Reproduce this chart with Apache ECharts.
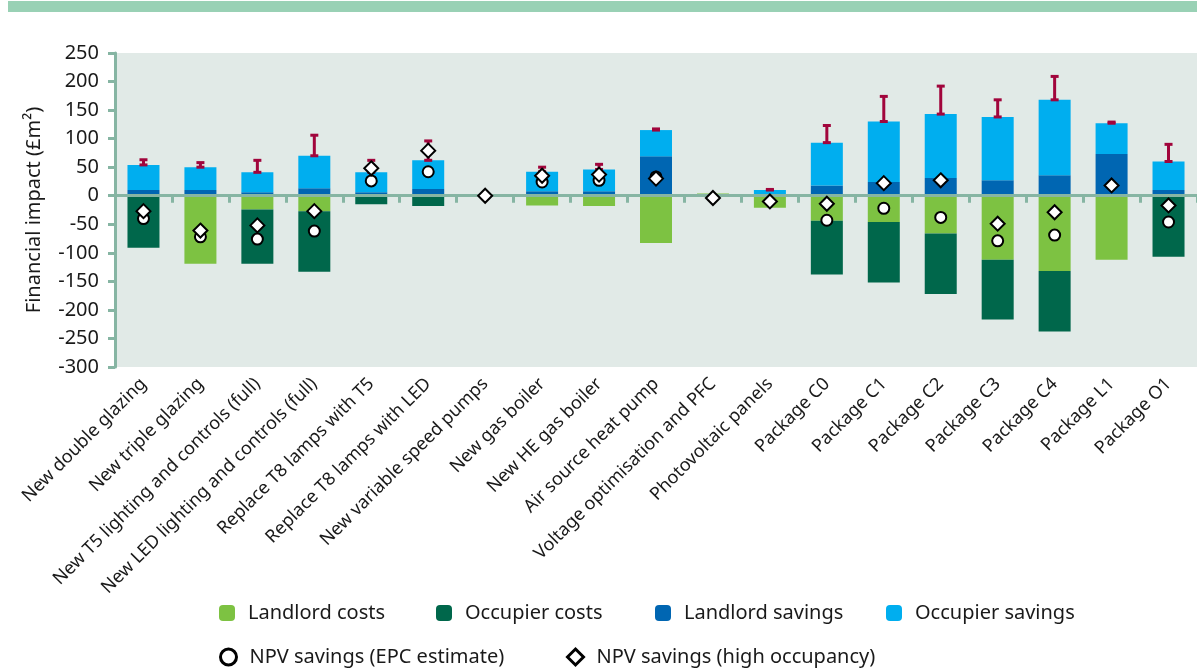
<!DOCTYPE html>
<html>
<head>
<meta charset="utf-8">
<title>Financial impact</title>
<script src="https://cdn.jsdelivr.net/npm/echarts@6/dist/echarts.min.js"></script>
<style>
    html, body { margin: 0; padding: 0; background: #fff; }
    #main { width: 1197px; height: 672px; }
</style>
</head>
<body>
<div id="main"></div>
<script>
    var categories = [
        "New double glazing", "New triple glazing", "New T5 lighting and controls (full)",
        "New LED lighting and controls (full)", "Replace T8 lamps with T5", "Replace T8 lamps with LED",
        "New variable speed pumps", "New gas boiler", "New HE gas boiler", "Air source heat pump",
        "Voltage optimisation and PFC", "Photovoltaic panels", "Package C0", "Package C1",
        "Package C2", "Package C3", "Package C4", "Package L1", "Package O1"
    ];
    var landlordCosts = [0, -119, -24, -27, 0, 0, 0, -17, -18, -83, 4, -21, -44, -46, -66, -112, -132, -112, 0];
    var occupierCosts = [-91, 0, -95, -106, -15, -18, 0, 0, 0, 0, 0, 0, -94, -106, -106, -105, -106, 0, -107];
    var landlordSavings = [10, 10, 6, 13, 6, 12, 2, 8, 8, 69, 0, 0, 18, 24, 31, 27, 36, 73, 10];
    var occupierSavings = [44, 40, 35, 57, 35, 50, 0, 34, 38, 46, 0, 10, 75, 106, 112, 111, 132, 54, 50];
    // upper end of the range on savings
    var savingsHigh = [63, 58, 62, 106, 62, 96, null, 50, 55, 117, null, 11, 123, 174, 192, 168, 209, 129, 90];
    var npvEpc = [-40, -72, -76, -62, 26, 42, null, 24, 27, 33, null, null, -43, -22, -38, -79, -69, null, -46];
    var npvHighOcc = [-27, -61, -52, -27, 48, 79, 0, 35, 37, 30, -4, -10, -14, 22, 27, -49, -29, 18, -17];
    var yTicks = { min: -300, max: 250, step: 50 };

    var font = "Noto Sans";
    var axisColor = "#86B5A3";
    var errColor = "#A1053C";

    var errData = [];
    for (var i = 0; i < categories.length; i++) {
        if (savingsHigh[i] == null) continue;
        errData.push([i, landlordSavings[i] + occupierSavings[i], savingsHigh[i]]);
    }

    var chart = echarts.init(document.getElementById("main"));

    function legendItem(name, left, top, extra) {
        var l = {
            data: [name],
            left: left,
            top: top,
            padding: 0,
            itemWidth: 16,
            itemHeight: 16,
            selectedMode: false,
            textStyle: { fontFamily: font, fontSize: 20, color: "#1a1a1a", padding: [0, 0, 0, 8] }
        };
        if (extra) l.itemStyle = extra;
        return l;
    }

    var option = {
        backgroundColor: "#fff",
        animation: false,
        graphic: [{
            type: "rect",
            shape: { x: 8, y: 1, width: 1189, height: 11 },
            style: { fill: "#99D1B5" }
        }],
        grid: {
            show: true,
            left: 115,
            top: 53,
            width: 1085,
            height: 314,
            backgroundColor: "#E1EAE7",
            borderWidth: 0
        },
        legend: [
            legendItem("Landlord costs", 219, 603),
            legendItem("Occupier costs", 436, 603),
            legendItem("Landlord savings", 655, 603),
            legendItem("Occupier savings", 886, 603),
            legendItem("NPV savings (EPC estimate)", 219, 647, { borderWidth: 3 }),
            legendItem("NPV savings (high occupancy)", 566, 647, { borderWidth: 3 })
        ],
        xAxis: [{
            type: "category",
            data: categories,
            position: "bottom",
            axisLine: { show: false, onZero: false },
            axisTick: { show: false },
            axisLabel: {
                interval: 0,
                rotate: 45,
                margin: 14,
                fontFamily: font,
                fontSize: 18,
                color: "#1a1a1a"
            }
        }, {
            type: "category",
            data: categories,
            position: "bottom",
            z: 3,
            axisLine: { show: true, onZero: true, lineStyle: { color: axisColor, width: 3 } },
            axisTick: { show: true, interval: 0, length: 7, lineStyle: { color: axisColor, width: 3 } },
            axisLabel: { show: false, interval: 0 }
        }],
        yAxis: {
            type: "value",
            min: yTicks.min,
            max: yTicks.max,
            interval: yTicks.step,
            name: "Financial impact (£m²)",
            nameLocation: "middle",
            nameGap: 71,
            nameTextStyle: { fontFamily: font, fontSize: 20, color: "#1a1a1a" },
            axisLine: { show: true, lineStyle: { color: axisColor, width: 3 } },
            axisTick: { show: true, length: 7, lineStyle: { color: axisColor, width: 3 } },
            splitLine: { show: false },
            axisLabel: { margin: 16, fontFamily: font, fontSize: 20, color: "#1a1a1a" }
        },
        series: [{
            name: "Landlord costs",
            type: "bar",
            stack: "total",
            barWidth: 32,
            itemStyle: { color: "#7DC242" },
            data: landlordCosts
        }, {
            name: "Occupier costs",
            type: "bar",
            stack: "total",
            barWidth: 32,
            itemStyle: { color: "#00674B" },
            data: occupierCosts
        }, {
            name: "Landlord savings",
            type: "bar",
            stack: "total",
            barWidth: 32,
            itemStyle: { color: "#0066B2" },
            data: landlordSavings
        }, {
            name: "Occupier savings",
            type: "bar",
            stack: "total",
            barWidth: 32,
            itemStyle: { color: "#00AEEF" },
            data: occupierSavings
        }, {
            name: "range",
            type: "custom",
            z: 3,
            renderItem: function (params, api) {
                var lo = api.coord([api.value(0), api.value(1)]);
                var hi = api.coord([api.value(0), api.value(2)]);
                var st = { stroke: errColor, lineWidth: 3 };
                return {
                    type: "group",
                    children: [
                        { type: "line", shape: { x1: lo[0], y1: lo[1], x2: hi[0], y2: hi[1] }, style: st },
                        { type: "line", shape: { x1: lo[0] - 4, y1: lo[1], x2: lo[0] + 4, y2: lo[1] }, style: st },
                        { type: "line", shape: { x1: hi[0] - 4, y1: hi[1], x2: hi[0] + 4, y2: hi[1] }, style: st }
                    ]
                };
            },
            encode: { x: 0, y: [1, 2] },
            data: errData
        }, {
            name: "NPV savings (EPC estimate)",
            type: "scatter",
            z: 4,
            symbol: "circle",
            symbolSize: 11,
            itemStyle: { color: "#fff", borderColor: "#000", borderWidth: 2, opacity: 1 },
            data: npvEpc
        }, {
            name: "NPV savings (high occupancy)",
            type: "scatter",
            z: 5,
            symbol: "diamond",
            symbolSize: 14,
            itemStyle: { color: "#fff", borderColor: "#000", borderWidth: 2, opacity: 1 },
            data: npvHighOcc
        }]
    };
    chart.setOption(option);
</script>
</body>
</html>
